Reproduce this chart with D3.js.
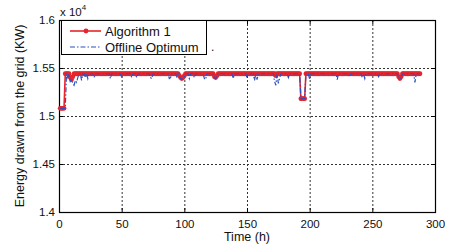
<!DOCTYPE html>
<html><head><meta charset="utf-8">
<script src="https://cdn.jsdelivr.net/npm/d3@7/dist/d3.min.js"></script>
<style>body{margin:0;background:#fff;}svg{display:block;font-family:"Liberation Sans",Arial,sans-serif;}</style>
</head><body><svg id="c" width="452" height="248"></svg>
<script>
const xTicks = [0,50,100,150,200,250,300];
const yTicks = [1.4,1.45,1.5,1.55,1.6];
const yTickLabels = ["1.4","1.45","1.5","1.55","1.6"];
const seriesNames = ["Algorithm 1","Offline Optimum"];
const algorithm1 = [
1.508,1.508,1.508,1.508,1.544,1.544,1.544,1.544,1.540,1.538,1.541,1.544,
1.544,1.544,1.544,1.544,1.544,1.544,1.544,1.544,1.544,1.544,1.544,1.544,
1.544,1.544,1.544,1.544,1.544,1.544,1.544,1.544,1.544,1.544,1.544,1.544,
1.544,1.544,1.544,1.544,1.544,1.544,1.544,1.544,1.544,1.544,1.544,1.544,
1.544,1.544,1.544,1.544,1.544,1.544,1.544,1.544,1.544,1.544,1.544,1.544,
1.544,1.544,1.544,1.544,1.544,1.544,1.544,1.544,1.544,1.544,1.544,1.544,
1.544,1.544,1.544,1.544,1.544,1.544,1.544,1.544,1.544,1.544,1.544,1.544,
1.544,1.544,1.544,1.544,1.544,1.544,1.544,1.544,1.544,1.544,1.544,1.542,
1.540,1.539,1.540,1.542,1.544,1.544,1.544,1.544,1.544,1.544,1.544,1.544,
1.544,1.544,1.544,1.544,1.544,1.544,1.544,1.544,1.544,1.544,1.544,1.544,
1.544,1.544,1.544,1.541,1.540,1.542,1.544,1.544,1.544,1.544,1.544,1.544,
1.544,1.544,1.544,1.544,1.544,1.544,1.544,1.544,1.544,1.544,1.544,1.544,
1.544,1.544,1.544,1.544,1.544,1.544,1.544,1.544,1.544,1.544,1.544,1.544,
1.544,1.544,1.544,1.544,1.544,1.544,1.544,1.544,1.544,1.544,1.544,1.544,
1.544,1.544,1.544,1.544,1.542,1.544,1.544,1.544,1.544,1.544,1.544,1.544,
1.544,1.544,1.544,1.544,1.544,1.544,1.544,1.544,1.544,1.544,1.544,1.544,
1.518,1.518,1.518,1.518,1.544,1.544,1.544,1.544,1.544,1.544,1.544,1.544,
1.544,1.544,1.544,1.544,1.544,1.544,1.544,1.544,1.544,1.544,1.544,1.544,
1.544,1.544,1.544,1.544,1.544,1.544,1.544,1.544,1.544,1.544,1.544,1.544,
1.544,1.544,1.544,1.544,1.544,1.544,1.544,1.544,1.544,1.544,1.544,1.544,
1.544,1.544,1.544,1.544,1.544,1.544,1.544,1.544,1.544,1.544,1.544,1.544,
1.544,1.544,1.544,1.544,1.544,1.544,1.544,1.544,1.544,1.544,1.544,1.544,
1.544,1.544,1.544,1.544,1.544,1.544,1.541,1.539,1.541,1.544,1.544,1.544,
1.544,1.544,1.544,1.544,1.544,1.544,1.544,1.544,1.544,1.544,1.544,1.544
];
const offline = [
1.508,1.508,1.508,1.508,1.508,1.544,1.540,1.544,1.536,1.538,1.534,1.532,
1.537,1.535,1.540,1.544,1.544,1.537,1.544,1.544,1.540,1.544,1.539,1.544,
1.544,1.544,1.544,1.540,1.544,1.544,1.544,1.544,1.544,1.544,1.544,1.544,
1.544,1.544,1.544,1.544,1.539,1.544,1.544,1.544,1.544,1.544,1.544,1.544,
1.544,1.541,1.544,1.544,1.544,1.544,1.544,1.544,1.544,1.540,1.544,1.544,
1.544,1.540,1.544,1.544,1.544,1.544,1.544,1.544,1.544,1.544,1.544,1.544,
1.540,1.539,1.544,1.544,1.544,1.544,1.544,1.544,1.544,1.544,1.544,1.544,
1.544,1.544,1.544,1.539,1.540,1.544,1.544,1.544,1.544,1.541,1.544,1.541,
1.539,1.538,1.539,1.541,1.544,1.544,1.544,1.539,1.544,1.544,1.544,1.540,
1.544,1.544,1.544,1.544,1.544,1.544,1.544,1.539,1.538,1.544,1.544,1.544,
1.544,1.544,1.544,1.540,1.539,1.541,1.544,1.544,1.544,1.544,1.544,1.544,
1.544,1.544,1.544,1.544,1.544,1.544,1.539,1.544,1.544,1.544,1.544,1.544,
1.544,1.544,1.544,1.544,1.544,1.540,1.544,1.544,1.544,1.544,1.544,1.537,
1.544,1.538,1.544,1.544,1.544,1.544,1.544,1.544,1.544,1.544,1.544,1.544,
1.544,1.544,1.544,1.536,1.532,1.544,1.534,1.539,1.544,1.544,1.544,1.544,
1.544,1.544,1.540,1.544,1.544,1.544,1.544,1.544,1.544,1.544,1.544,1.544,
1.518,1.518,1.518,1.518,1.544,1.544,1.544,1.538,1.544,1.544,1.544,1.544,
1.544,1.544,1.544,1.544,1.544,1.544,1.544,1.544,1.544,1.544,1.544,1.544,
1.544,1.544,1.544,1.544,1.544,1.538,1.544,1.544,1.544,1.544,1.544,1.544,
1.544,1.544,1.544,1.541,1.544,1.544,1.544,1.544,1.544,1.544,1.544,1.544,
1.544,1.540,1.544,1.539,1.544,1.544,1.544,1.544,1.544,1.544,1.544,1.544,
1.544,1.544,1.541,1.544,1.544,1.544,1.544,1.544,1.544,1.544,1.544,1.544,
1.544,1.544,1.544,1.544,1.544,1.544,1.540,1.539,1.540,1.544,1.544,1.544,
1.544,1.544,1.544,1.544,1.544,1.544,1.544,1.535,1.544,1.544,1.544,1.544
];

const svg = d3.select("#c");
const L = 59, R = 435, T = 20, B = 212;
const x = d3.scaleLinear().domain([0,300]).range([L,R]);
const y = d3.scaleLinear().domain([1.4,1.6]).range([B,T]);

// grid
const g = svg.append("g");
g.selectAll(".gx").data(xTicks.slice(1,-1)).enter().append("line")
  .attr("x1",d=>x(d)+0.5).attr("x2",d=>x(d)+0.5).attr("y1",T).attr("y2",B)
  .attr("stroke","#333").attr("stroke-width",1).attr("stroke-dasharray","2,2");
g.selectAll(".gy").data(yTicks.slice(1,-1)).enter().append("line")
  .attr("y1",d=>Math.round(y(d))+0.5).attr("y2",d=>Math.round(y(d))+0.5).attr("x1",L).attr("x2",R)
  .attr("stroke","#333").attr("stroke-width",1).attr("stroke-dasharray","2,2");

// axes
const xAxis = d3.axisBottom(x).tickValues(xTicks).tickSizeInner(-4).tickSizeOuter(0).tickPadding(8);
const ax = svg.append("g").attr("transform",`translate(0,${B})`).call(xAxis);
const yAxis = d3.axisLeft(y).tickValues(yTicks).tickFormat((d,i)=>yTickLabels[i]).tickSizeInner(-4).tickSizeOuter(0).tickPadding(4);
const ay = svg.append("g").attr("transform",`translate(${L},0)`).call(yAxis);
[ax,ay].forEach(a=>{a.select(".domain").remove();a.selectAll("text").attr("font-size","11.5px").attr("fill","#111").attr("font-family","Liberation Sans, Arial, sans-serif");a.selectAll("line").attr("stroke","#000");});
svg.append("g").attr("transform",`translate(0,${T})`).call(d3.axisTop(x).tickValues(xTicks).tickSizeInner(-4).tickSizeOuter(0).tickFormat(""))
  .call(s=>{s.select(".domain").remove();s.selectAll("line").attr("stroke","#000");});
svg.append("g").attr("transform",`translate(${R},0)`).call(d3.axisRight(y).tickValues(yTicks).tickSizeInner(-4).tickSizeOuter(0).tickFormat(""))
  .call(s=>{s.select(".domain").remove();s.selectAll("line").attr("stroke","#000");});

// frame
svg.append("rect").attr("x",L+0.5).attr("y",T+0.5).attr("width",R-L).attr("height",B-T)
  .attr("fill","none").attr("stroke","#000").attr("stroke-width",1.2);

// series
const d1 = algorithm1.map((v,i)=>[i+1,v]);
const d2 = offline.map((v,i)=>[i+1,v]);
const line = d3.line().x(d=>x(d[0])).y(d=>y(d[1]));
const red = "#e8242c", blue = "#2f4fc0";
svg.append("path").datum(d1).attr("d",line).attr("fill","none").attr("stroke",red).attr("stroke-width",1.6);
svg.append("g").selectAll("circle").data(d1).enter().append("circle")
  .attr("cx",d=>x(d[0])).attr("cy",d=>y(d[1])).attr("r",2.4).attr("fill",red);
svg.append("path").datum(d2).attr("d",line).attr("fill","none").attr("stroke",blue).attr("stroke-width",1.2)
  .attr("stroke-dasharray","5,2,1.5,2");

// legend
const lg = svg.append("g");
lg.append("rect").attr("x",61.5).attr("y",20.5).attr("width",145).attr("height",34).attr("fill","#fff").attr("stroke","#000").attr("stroke-width",1);
lg.append("line").attr("x1",70).attr("x2",101).attr("y1",31).attr("y2",31).attr("stroke",red).attr("stroke-width",1.6);
lg.append("circle").attr("cx",86).attr("cy",31).attr("r",2.4).attr("fill",red);
lg.append("line").attr("x1",70).attr("x2",101).attr("y1",47).attr("y2",47).attr("stroke",blue).attr("stroke-width",1.2).attr("stroke-dasharray","5,2,1.5,2");
lg.selectAll("text.lt").data(seriesNames).enter().append("text")
  .attr("x",105).attr("y",(d,i)=>31+i*16.5).attr("dy","0.36em").attr("font-size","13px").attr("fill","#111").text(d=>d);
svg.append("text").attr("x",211).attr("y",51).attr("font-size","12px").attr("fill","#111").text(".");

// exponent
const ex = svg.append("text").attr("x",60).attr("y",16).attr("font-size","11.5px").attr("fill","#111");
ex.append("tspan").text("x 10");
ex.append("tspan").attr("dy","-6").attr("font-size","8px").text("4");

// titles
svg.append("text").attr("x",(L+R)/2).attr("y",241).attr("text-anchor","middle").attr("font-size","12.5px").attr("fill","#111").text("Time (h)");
svg.append("text").attr("transform",`translate(24,${(T+B)/2}) rotate(-90)`).attr("text-anchor","middle").attr("font-size","12.5px").attr("fill","#111").text("Energy drawn from the grid (KW)");
</script></body></html>
